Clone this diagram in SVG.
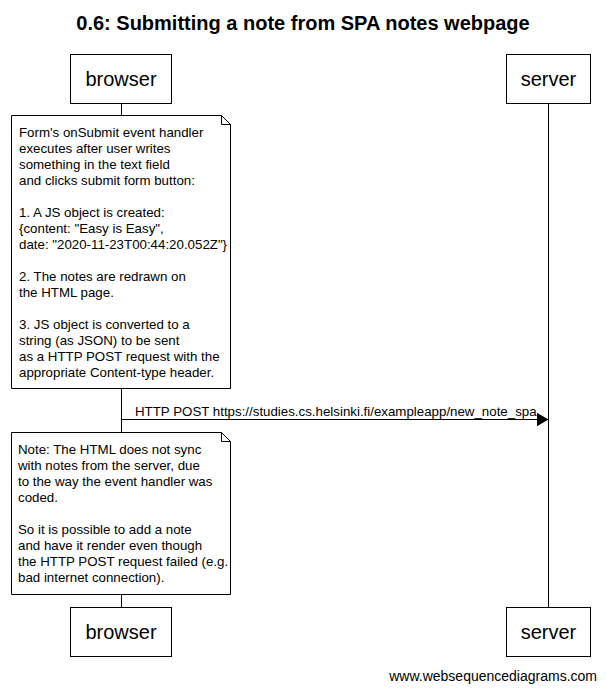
<svg xmlns="http://www.w3.org/2000/svg" width="606" height="690" viewBox="0 0 606 690">
<style>
  .box{fill:#fff;stroke:#000;stroke-width:1}
  .life{stroke:#000;stroke-width:1;fill:none}
  .ptxt{font-family:"Liberation Sans",Arial,sans-serif;font-size:20px;text-anchor:middle;fill:#000}
  .ntxt{font-family:"Liberation Sans",Arial,sans-serif;font-size:13.3px;fill:#000}
  .title{font-family:"Liberation Sans",Arial,sans-serif;font-size:20px;font-weight:bold;text-anchor:middle;fill:#000}
</style>
<defs>
  <marker id="ah" markerWidth="12" markerHeight="14" refX="12" refY="7" orient="auto" markerUnits="userSpaceOnUse">
    <path d="M0,0 L12,7 L0,14 Z" fill="#000"/>
  </marker>
</defs>
<rect width="606" height="690" fill="#fff"/>
<text class="title" x="303" y="30">0.6: Submitting a note from SPA notes webpage</text>

<g id="connectors">
  <line class="life" x1="121.5" y1="103" x2="121.5" y2="608"/>
  <line class="life" x1="548.5" y1="103" x2="548.5" y2="608"/>
  <line class="life" x1="121.5" y1="419.5" x2="548.5" y2="419.5" marker-end="url(#ah)"/>
  <text class="ntxt" x="135" y="416">HTTP POST https://studies.cs.helsinki.fi/exampleapp/new_note_spa</text>
</g>

<g id="browser-top">
  <rect class="box" x="70.5" y="54.5" width="101" height="49"/>
  <text class="ptxt" x="121" y="86">browser</text>
</g>
<g id="server-top">
  <rect class="box" x="506.5" y="54.5" width="84" height="49"/>
  <text class="ptxt" x="548.5" y="86">server</text>
</g>

<g id="note1">
  <path class="box" d="M11.5,115.5 H221.5 L230.5,124.5 V388.5 H11.5 Z"/>
  <path class="life" d="M221.5,115.5 V124.5 H230.5"/>
  <text class="ntxt">
    <tspan x="19" y="137">Form's onSubmit event handler</tspan>
    <tspan x="19" y="153">executes after user writes</tspan>
    <tspan x="19" y="169">something in the text field</tspan>
    <tspan x="19" y="185">and clicks submit form button:</tspan>
    <tspan x="19" y="217">1. A JS object is created:</tspan>
    <tspan x="19" y="233">{content: "Easy is Easy",</tspan>
    <tspan x="19" y="249">date: "2020-11-23T00:44:20.052Z"}</tspan>
    <tspan x="19" y="281">2. The notes are redrawn on</tspan>
    <tspan x="19" y="297">the HTML page.</tspan>
    <tspan x="19" y="329">3. JS object is converted to a</tspan>
    <tspan x="19" y="345">string (as JSON) to be sent</tspan>
    <tspan x="19" y="361">as a HTTP POST request with the</tspan>
    <tspan x="19" y="377">appropriate Content-type header.</tspan>
  </text>
</g>

<g id="note2">
  <path class="box" d="M11.5,432.5 H221.5 L230.5,441.5 V594.5 H11.5 Z"/>
  <path class="life" d="M221.5,432.5 V441.5 H230.5" stroke="#888"/>
  <text class="ntxt">
    <tspan x="18" y="454">Note: The HTML does not sync</tspan>
    <tspan x="18" y="470">with notes from the server, due</tspan>
    <tspan x="18" y="486">to the way the event handler was</tspan>
    <tspan x="18" y="502">coded.</tspan>
    <tspan x="18" y="534">So it is possible to add a note</tspan>
    <tspan x="18" y="550">and have it render even though</tspan>
    <tspan x="18" y="566">the HTTP POST request failed (e.g.</tspan>
    <tspan x="18" y="582">bad internet connection).</tspan>
  </text>
</g>

<g id="browser-bottom">
  <rect class="box" x="70.5" y="607.5" width="101" height="49"/>
  <text class="ptxt" x="121" y="639">browser</text>
</g>
<g id="server-bottom">
  <rect class="box" x="506.5" y="607.5" width="84" height="49"/>
  <text class="ptxt" x="548.5" y="639">server</text>
</g>

<text class="ntxt" x="597" y="681" text-anchor="end" style="font-size:14px">www.websequencediagrams.com</text>
</svg>
